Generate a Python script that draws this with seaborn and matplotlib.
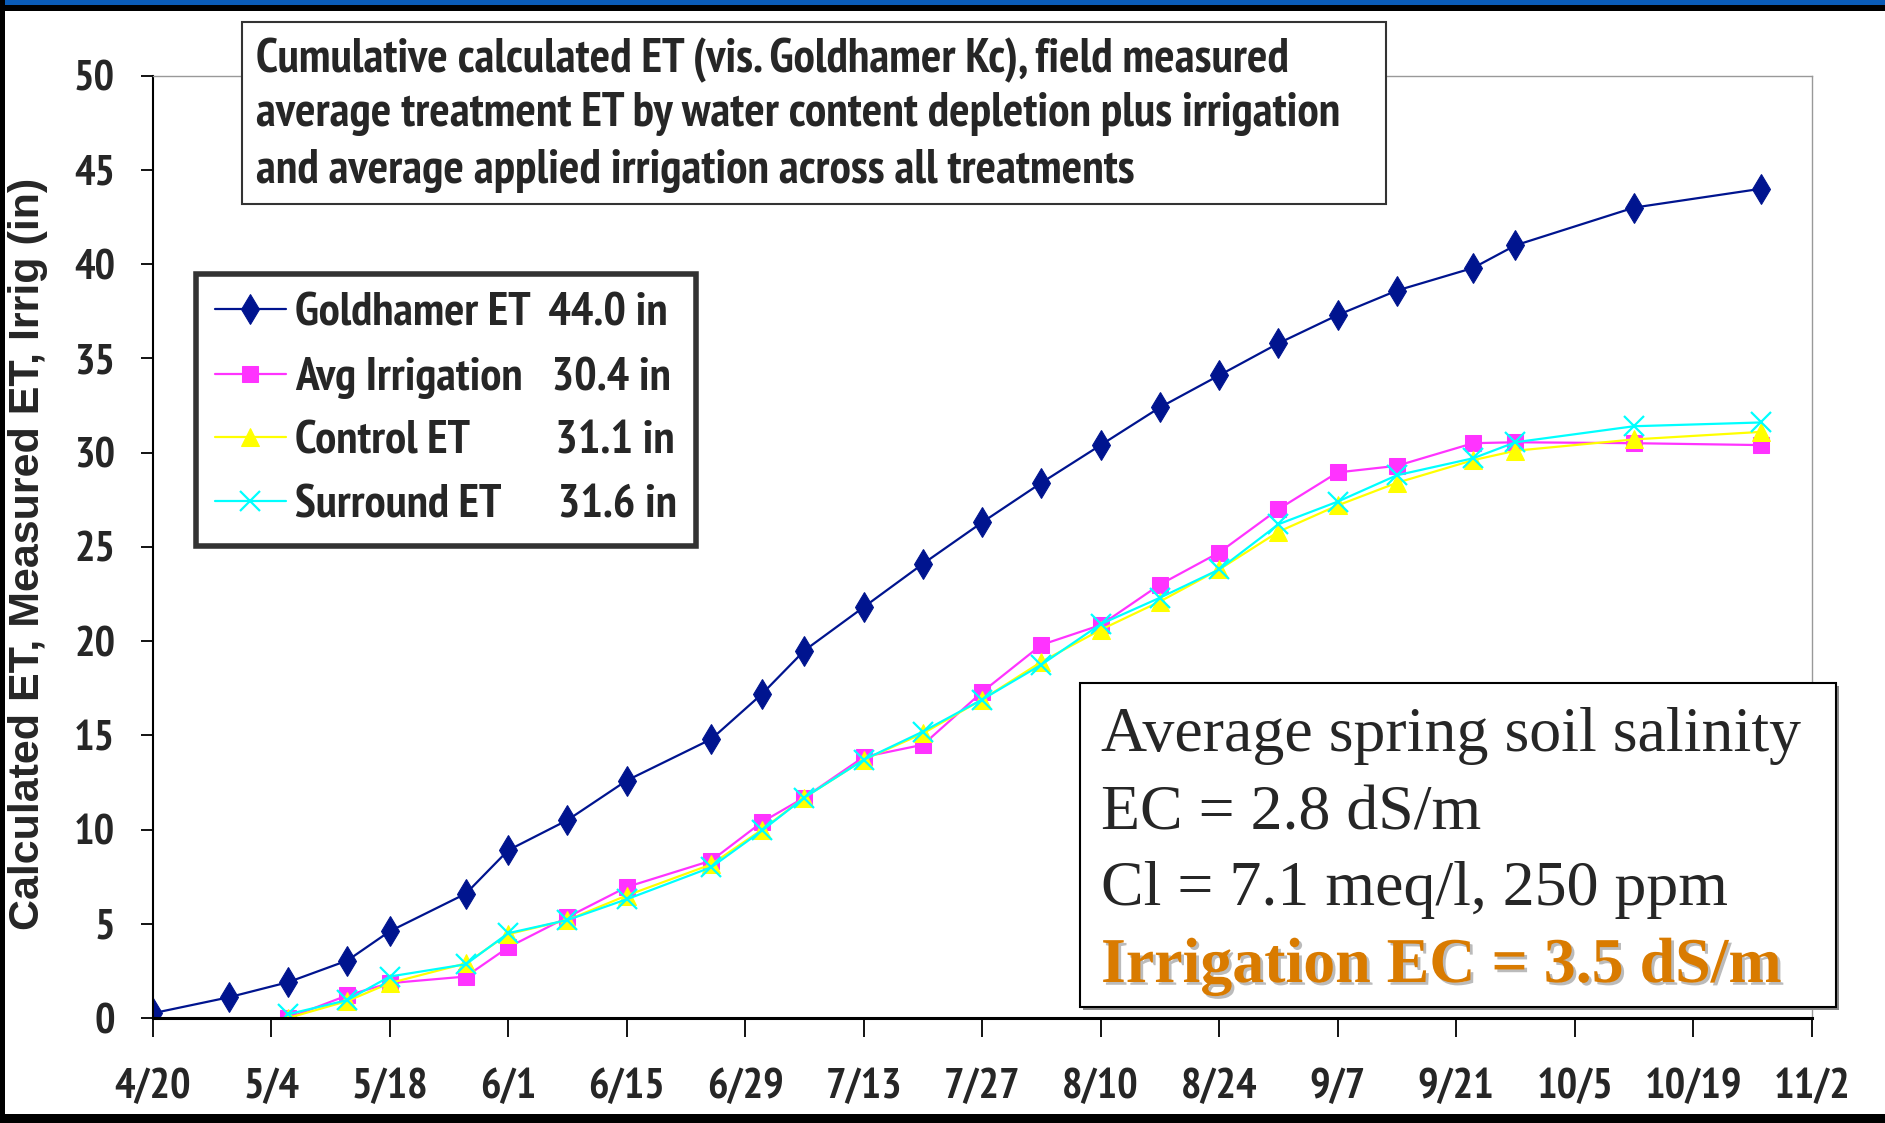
import matplotlib
matplotlib.use("Agg")
import matplotlib.pyplot as plt
import matplotlib.patheffects as pe
from matplotlib.patches import Rectangle
import pandas as pd
import seaborn as sns

# dados (polegadas acumuladas)
gold_dates = ["4/20", "4/29", "5/6", "5/13", "5/18", "5/27", "6/1", "6/8", "6/15",
              "6/25", "7/1", "7/6", "7/13", "7/20", "7/27", "8/3", "8/10", "8/17",
              "8/24", "8/31", "9/7", "9/14", "9/23", "9/28", "10/12", "10/27"]
gold_et = [0.25, 1.1, 1.9, 3.05, 4.6, 6.6, 8.9, 10.5, 12.6, 14.8, 17.2, 19.5, 21.8,
           24.1, 26.3, 28.4, 30.4, 32.4, 34.1, 35.8, 37.3, 38.6, 39.8, 41.0, 43.0, 44.0]

meas_dates = ["5/6", "5/13", "5/18", "5/27", "6/1", "6/8", "6/15", "6/25", "7/1",
              "7/6", "7/13", "7/20", "7/27", "8/3", "8/10", "8/17", "8/24", "8/31",
              "9/7", "9/14", "9/23", "9/28", "10/12", "10/27"]
avg_irrig = [0.0, 1.2, 1.85, 2.2, 3.75, 5.35, 6.95, 8.35, 10.4, 11.7, 13.85, 14.5,
             17.3, 19.8, 20.85, 23.0, 24.7, 27.0, 28.95, 29.3, 30.5, 30.55, 30.5, 30.4]
control_et = [0.0, 0.9, 1.85, 2.9, 4.45, 5.2, 6.5, 8.15, 10.0, 11.7, 13.7, 15.1,
              16.9, 18.9, 20.6, 22.1, 23.8, 25.8, 27.2, 28.4, 29.6, 30.1, 30.7, 31.1]
surround_et = [0.2, 0.95, 2.2, 2.85, 4.5, 5.2, 6.3, 8.0, 9.95, 11.7, 13.7, 15.2,
               16.9, 18.75, 20.9, 22.3, 23.8, 26.2, 27.4, 28.8, 29.7, 30.55, 31.4, 31.6]

legend_labels = ["Goldhamer ET  44.0 in", "Avg Irrigation   30.4 in",
                 "Control ET         31.1 in", "Surround ET      31.6 in"]
tick_labels = ["4/20", "5/4", "5/18", "6/1", "6/15", "6/29", "7/13", "7/27",
               "8/10", "8/24", "9/7", "9/21", "10/5", "10/19", "11/2"]

title_lines = ["Cumulative calculated ET (vis. Goldhamer Kc), field measured",
               "average treatment ET by water content depletion plus irrigation",
               "and average applied irrigation across all treatments"]
note_lines = ["Average spring soil salinity", "EC = 2.8 dS/m",
              "Cl = 7.1 meq/l, 250 ppm", "Irrigation EC = 3.5 dS/m"]

W, H = 1885, 1123


def px(x, y):
    # pixel da figura -> coordenadas de figura
    return x / W, 1 - y / H


def to_dates(labels):
    return pd.to_datetime(["2005/" + s for s in labels], format="%Y/%m/%d")


sns.set_style("white")
narrow = ["PT Sans Narrow", "Roboto Condensed", "Liberation Sans", "DejaVu Sans"]
plt.rcParams["font.family"] = narrow
plt.rcParams["font.weight"] = "bold"

fig = plt.figure(figsize=(W / 100, H / 100), dpi=100)
ax = fig.add_axes([152.7 / W, 1 - 1018 / H, (1811.7 - 152.7) / W, (1018 - 75.7) / H])

sns.lineplot(x=to_dates(gold_dates), y=gold_et, ax=ax, color="#00148F", lw=1.6,
             marker="d", markersize=15, markeredgecolor="#00148F", label=legend_labels[0])
sns.lineplot(x=to_dates(meas_dates), y=avg_irrig, ax=ax, color="#FF33FF", lw=1.6,
             marker="s", markersize=11, markeredgecolor="#FF33FF", label=legend_labels[1])
sns.lineplot(x=to_dates(meas_dates), y=control_et, ax=ax, color="#FFFF00", lw=1.6,
             marker="^", markersize=13, markeredgecolor="#FFFF00", label=legend_labels[2])
sns.lineplot(x=to_dates(meas_dates), y=surround_et, ax=ax, color="#00FFFF", lw=1.6,
             marker="x", markersize=14, markeredgewidth=1.6, markeredgecolor="#00FFFF",
             label=legend_labels[3])

ax.set_xlim(to_dates(["4/20"])[0], to_dates(["11/2"])[0])
ax.set_ylim(0, 50)
ax.set_yticks(range(0, 51, 5))
ax.set_xticks(to_dates(tick_labels))
ax.set_xticklabels(tick_labels)
ax.set_xlabel("")

ax.tick_params(axis="y", direction="out", length=9, width=1.3, pad=18, labelsize=31,
               left=True, color="black")
ax.tick_params(axis="x", direction="out", length=14, width=1.3, pad=22, labelsize=31,
               bottom=True, color="black")
for s in ["top", "right"]:
    ax.spines[s].set_color("#999999")
    ax.spines[s].set_linewidth(1)
ax.spines["left"].set_color("black")
ax.spines["left"].set_linewidth(1.5)
ax.spines["bottom"].set_color("black")
ax.spines["bottom"].set_linewidth(2.2)

ax.set_ylabel("Calculated ET, Measured ET, Irrig (in)", fontsize=31, fontweight="bold",
              family=["Liberation Sans", "DejaVu Sans"])
ax.yaxis.set_label_coords(-0.063, 0.493)

leg = ax.legend(loc="upper left", bbox_to_anchor=px(196, 274), bbox_transform=fig.transFigure,
                frameon=True, fancybox=False, edgecolor="black", borderaxespad=0,
                prop={"size": 34, "weight": "bold", "family": narrow},
                handlelength=1.5, handletextpad=0.2, labelspacing=0.46, borderpad=0.4)
leg.get_frame().set_linewidth(4)

# caixa do título
fig.add_artist(Rectangle(px(242, 204), 1144 / W, 182 / H, transform=fig.transFigure,
                         facecolor="white", edgecolor="#333333", lw=1.5, zorder=5))
for line, yb in zip(title_lines, [72, 126, 183]):
    fig.text(*px(256, yb), line, fontsize=34.5, fontweight="bold", va="baseline",
             ha="left", zorder=6)

# caixa com as informações de salinidade
fig.add_artist(Rectangle(px(1083, 1010), 756 / W, 324 / H, transform=fig.transFigure,
                         facecolor="#888888", edgecolor="none", zorder=5))
fig.add_artist(Rectangle(px(1080, 1007), 756 / W, 324 / H, transform=fig.transFigure,
                         facecolor="white", edgecolor="black", lw=1.5, zorder=6))
serif = ["Liberation Serif", "DejaVu Serif"]
for line, yb in zip(note_lines[:3], [751, 829, 905]):
    fig.text(*px(1101, yb), line, fontsize=46, fontweight="normal", family=serif,
             va="baseline", ha="left", zorder=7)
fig.text(*px(1101, 982), note_lines[3], fontsize=46, fontweight="bold", family=serif,
         color="#D97B00", va="baseline", ha="left", zorder=7,
         path_effects=[pe.withSimplePatchShadow(offset=(2, -2), shadow_rgbFace="#bbbbbb",
                                                alpha=1)])

# moldura do slide
fig.add_artist(Rectangle((0, 1 - 5 / H), 1, 5 / H, transform=fig.transFigure,
                         facecolor="#0A5CB8", edgecolor="none", zorder=10))
fig.add_artist(Rectangle((0, 1 - 11 / H), 1, 6 / H, transform=fig.transFigure,
                         facecolor="black", edgecolor="none", zorder=10))
fig.add_artist(Rectangle((0, 0), 5 / W, 1, transform=fig.transFigure,
                         facecolor="black", edgecolor="none", zorder=10))
fig.add_artist(Rectangle((0, 0), 1, 9 / H, transform=fig.transFigure,
                         facecolor="black", edgecolor="none", zorder=10))

fig.savefig("out.png", dpi=100)
